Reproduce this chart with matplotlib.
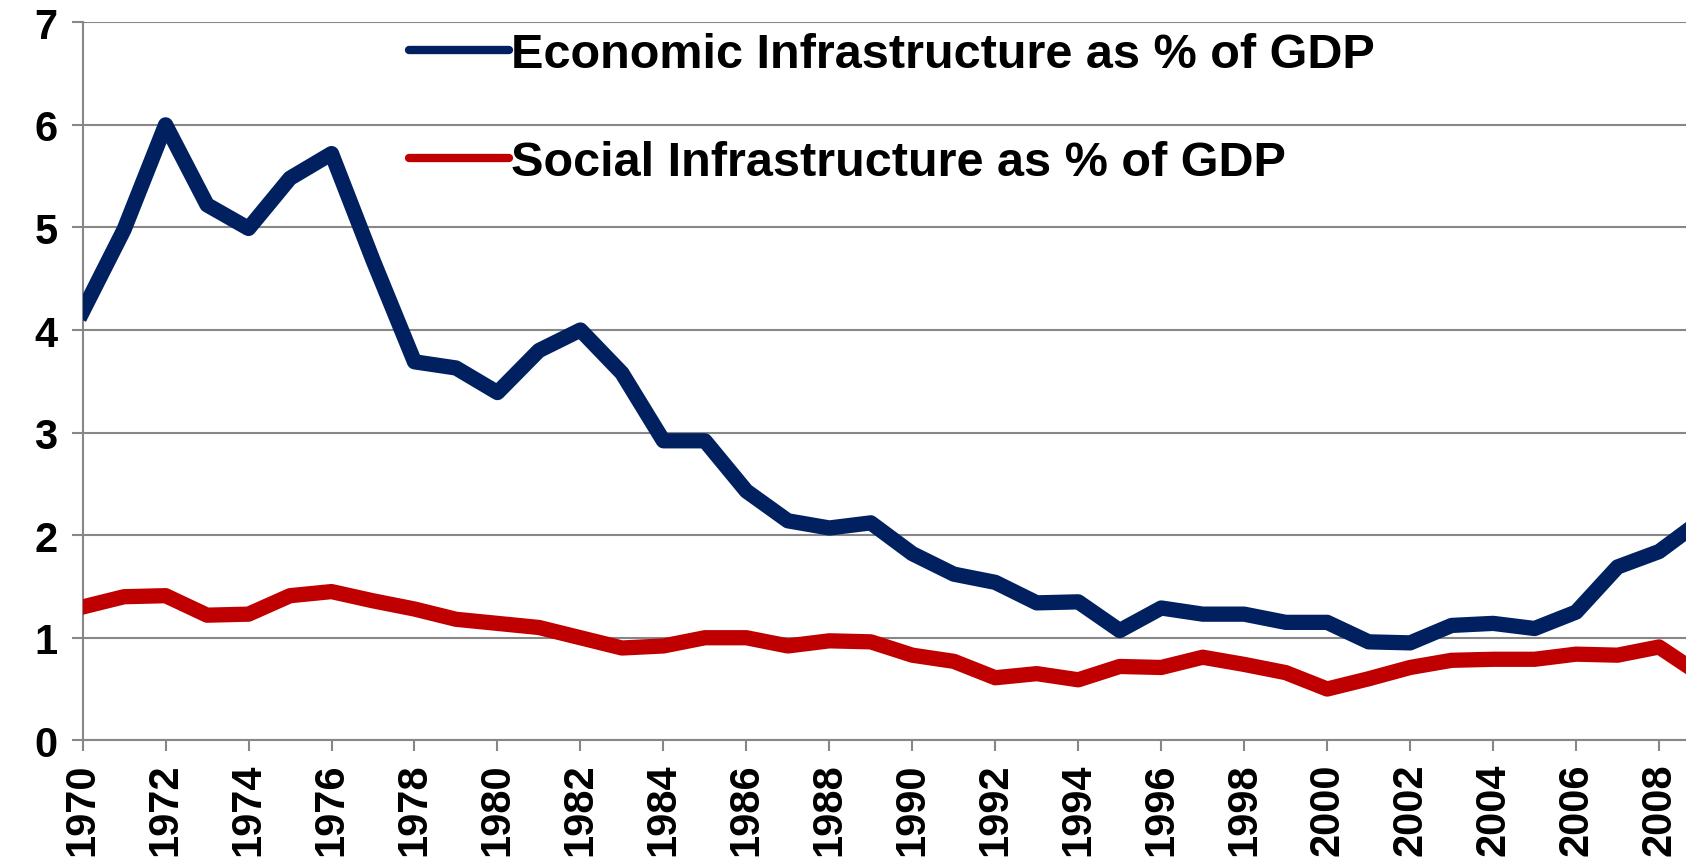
import numpy as np
import matplotlib
matplotlib.use("Agg")
import matplotlib.pyplot as plt

# data
years = list(range(1970, 2010))
economic = [4.18, 4.98, 6.0, 5.22, 4.99, 5.48, 5.72, 4.68, 3.69, 3.63,
            3.39, 3.8, 4.0, 3.58, 2.92, 2.92, 2.43, 2.14, 2.07, 2.12,
            1.82, 1.62, 1.54, 1.34, 1.35, 1.07, 1.29, 1.23, 1.23, 1.15,
            1.15, 0.96, 0.95, 1.12, 1.14, 1.09, 1.25, 1.69, 1.84, 2.14]
social = [1.3, 1.4, 1.41, 1.22, 1.23, 1.41, 1.45, 1.36, 1.28, 1.18,
          1.14, 1.1, 1.0, 0.9, 0.92, 1.0, 1.0, 0.92, 0.97, 0.96,
          0.83, 0.77, 0.61, 0.65, 0.59, 0.72, 0.71, 0.81, 0.74, 0.66,
          0.5, 0.6, 0.71, 0.78, 0.79, 0.79, 0.84, 0.83, 0.91, 0.64]
labels = ["Economic Infrastructure as % of GDP", "Social Infrastructure as % of GDP"]

plt.rcParams['font.family'] = ['Liberation Sans', 'DejaVu Sans']
plt.rcParams['font.weight'] = 'bold'

fig = plt.figure(figsize=(16.86, 8.62), dpi=100)
ax = fig.add_axes([0.049, 0.14, 0.951, 0.833])

grid_col = "#878787"
ax.plot(years, economic, color="#002060", lw=11, solid_joinstyle='round', label=labels[0], zorder=3)
ax.plot(years, social, color="#C00000", lw=11, solid_joinstyle='round', label=labels[1], zorder=3)

ax.set_xlim(1970, 2008.65)
ax.set_ylim(0, 7)
ax.set_yticks(range(0, 8))
ax.set_xticks(range(1970, 2009, 2))
ax.set_xticklabels([str(y) for y in range(1970, 2009, 2)], rotation=90)
ax.yaxis.grid(True, color=grid_col, lw=1.5)
ax.set_axisbelow(True)

for s in ['top', 'right']:
    ax.spines[s].set_visible(False)
for s in ['left', 'bottom']:
    ax.spines[s].set_color(grid_col)
    ax.spines[s].set_linewidth(1.5)

ax.tick_params(axis='both', colors=grid_col, labelcolor='black', width=1.5, length=8, labelsize=30)
ax.tick_params(axis='y', pad=10)
ax.tick_params(axis='x', pad=8)

leg = ax.legend(loc='upper left', bbox_to_anchor=(0.2425, 0.962), bbox_transform=fig.transFigure,
                frameon=False, fontsize=35, handlelength=2.05, handletextpad=0.05,
                labelspacing=1.3, borderaxespad=0, borderpad=0)
for h in leg.get_lines():
    h.set_linewidth(6)
    h.set_solid_capstyle('round')

fig.savefig("out.png", dpi=100)
